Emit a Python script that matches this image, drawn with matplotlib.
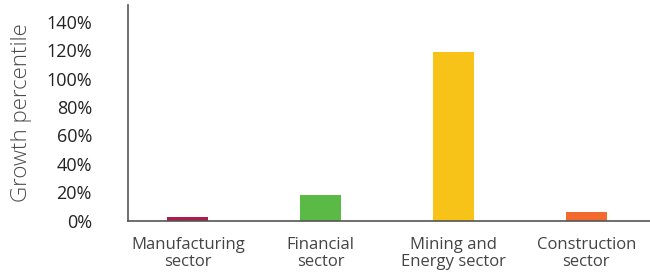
import matplotlib
matplotlib.use("Agg")
import matplotlib.pyplot as plt
from matplotlib.ticker import FuncFormatter

categories = ["Manufacturing\nsector", "Financial\nsector", "Mining and\nEnergy sector", "Construction\nsector"]
values = [2.7, 18, 119, 6]
colors = ["#A91F4A", "#5BB946", "#F7C318", "#F26A2E"]
yticks = [0, 20, 40, 60, 80, 100, 120, 140]

plt.rcParams['font.family'] = ['Open Sans', 'DejaVu Sans']

fig = plt.figure(figsize=(6.5, 2.73), dpi=100)
ax = fig.add_axes([0.197, 0.192, 0.803, 0.790])

x = list(range(len(categories)))
ax.bar(x, values, width=0.31, color=colors)
ax.set_xlim(-0.45, 3.48)
ax.set_ylim(0, 152)

ax.set_yticks(yticks)
ax.yaxis.set_major_formatter(FuncFormatter(lambda v, p: f"{int(v)}%"))
ax.set_xticks(x)
ax.set_xticklabels(categories, fontsize=12, color="#444444", linespacing=1.1)
ax.tick_params(axis='y', length=0, pad=26, labelsize=13, labelcolor="#222222")
ax.tick_params(axis='x', length=0, pad=12)

for s in ["top", "right"]:
    ax.spines[s].set_visible(False)
for s in ["left", "bottom"]:
    ax.spines[s].set_color("#555555")
    ax.spines[s].set_linewidth(1.2)

ax.set_ylabel("Growth percentile", fontsize=16, color="#4a4a4a", fontweight='light', labelpad=10)

fig.savefig("out.png", dpi=100)
